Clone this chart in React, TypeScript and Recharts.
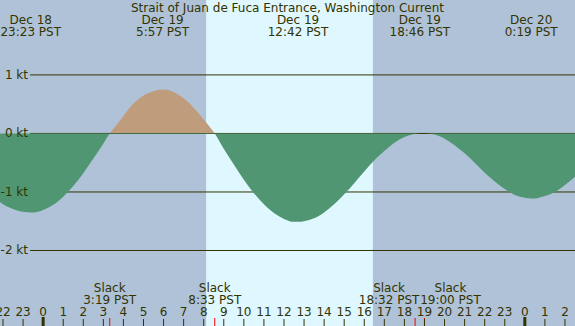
import React from "react";
import {
  AreaChart,
  Area,
  XAxis,
  YAxis,
  ReferenceArea,
  ReferenceLine,
} from "recharts";

// hours from midnight Dec 19 (PST), knots (+ flood / - ebb)
const hours = [
  -2.15, -2, -1.5, -1, -0.62, -0.5, 0, 0.5, 1, 1.5, 2, 2.5, 3, 3.32, 3.5, 4,
  4.5, 5, 5.5, 5.95, 6.5, 7, 7.5, 8, 8.55, 9, 9.5, 10, 10.5, 11, 11.5, 12, 12.5,
  12.7, 13, 13.5, 14, 14.5, 15, 15.5, 16, 16.5, 17, 17.5, 18, 18.5, 18.77, 19,
  19.5, 20, 20.5, 21, 21.5, 22, 22.5, 23, 23.5, 24, 24.32, 24.5, 25, 25.5, 26,
  26.5,
];
const knots = [
  -1.17, -1.21, -1.29, -1.34, -1.35, -1.35, -1.31, -1.22, -1.08, -0.9, -0.68,
  -0.43, -0.17, 0, 0.08, 0.3, 0.51, 0.65, 0.72, 0.75, 0.71, 0.6, 0.44, 0.24, 0,
  -0.26, -0.53, -0.79, -1.02, -1.21, -1.36, -1.46, -1.51, -1.51, -1.5, -1.45,
  -1.35, -1.21, -1.04, -0.85, -0.65, -0.46, -0.3, -0.16, -0.06, -0.01, 0, 0,
  -0.02, -0.09, -0.2, -0.34, -0.5, -0.67, -0.82, -0.95, -1.05, -1.1, -1.11,
  -1.11, -1.07, -1, -0.88, -0.74,
];

const hourTicks = [
  -2, -1, 0, 1, 2, 3, 4, 5, 6, 7, 8, 9, 10, 11, 12, 13, 14, 15, 16, 17, 18, 19,
  20, 21, 22, 23, 24, 25, 26,
];
const ktTicks = [1, 0, -1, -2];

// max / min current events (top labels)
const peakHours = [-0.617, 5.95, 12.7, 18.767, 24.317];
const peakDays = ["Dec 18", "Dec 19", "Dec 19", "Dec 19", "Dec 20"];
const peakTimes = ["23:23 PST", "5:57 PST", "12:42 PST", "18:46 PST", "0:19 PST"];

// slack water (bottom labels)
const slackHours = [3.317, 8.55, 18.533, 19.0];
const slackTimes = ["3:19 PST", "8:33 PST", "18:32 PST", "19:00 PST"];
const slackNudge = [0, 0, -26, 26];

const sunrise = 8.12;
const sunset = 16.43;

const TITLE = "Strait of Juan de Fuca Entrance, Washington Current";

const W = 575;
const H = 326;
const X_MIN = -2.15;
const X_MAX = 26.5;
const Y_MIN = -3.29;
const Y_MAX = 2.28;
const GRID_START = -0.65;

const NIGHT = "#afc2d8";
const DAY = "#dff7ff";
const EBB = "#519673";
const FLOOD = "#bf9c7b";
const INK = "#333300";
const FONT = "DejaVu Sans";

const data = hours.map((h, i) => ({ hour: h, kt: knots[i] }));
const hiKt = Math.max(...knots);
const loKt = Math.min(...knots);
const split = hiKt / (hiKt - loKt);

const HourTick = (props: any) => {
  const { x, payload } = props;
  const v = payload.value as number;
  const label = ((v % 24) + 24) % 24;
  const midnight = label === 0;
  return (
    <g>
      <text x={x} y={H - 10} textAnchor="middle" fill={INK} fontSize={12} fontFamily={FONT}>
        {label}
      </text>
      <line
        x1={x}
        x2={x}
        y1={midnight ? H - 9 : H - 7}
        y2={H}
        stroke={INK}
        strokeWidth={midnight ? 3 : 1}
      />
    </g>
  );
};

const KtTick = (props: any) => {
  const { y, payload } = props;
  return (
    <text x={28} y={y + 4} textAnchor="end" fill={INK} fontSize={12} fontFamily={FONT}>
      {payload.value} kt
    </text>
  );
};

export default function App() {
  return (
    <div style={{ position: "absolute", left: 0, top: 0, width: W, height: H, background: NIGHT }}>
      <AreaChart width={W} height={H} data={data} margin={{ top: 0, right: 0, bottom: 0, left: 0 }}>
        <defs>
          <linearGradient id="tideFill" x1="0" y1="0" x2="0" y2="1">
            <stop offset={split} stopColor={FLOOD} />
            <stop offset={split} stopColor={EBB} />
          </linearGradient>
        </defs>
        <XAxis
          dataKey="hour"
          type="number"
          domain={[X_MIN, X_MAX]}
          allowDataOverflow
          ticks={hourTicks}
          interval={0}
          mirror
          axisLine={false}
          tickLine={false}
          tick={(p: any) => <HourTick {...p} />}
        />
        <YAxis
          type="number"
          domain={[Y_MIN, Y_MAX]}
          allowDataOverflow
          ticks={ktTicks}
          interval={0}
          mirror
          axisLine={false}
          tickLine={false}
          tick={(p: any) => <KtTick {...p} />}
        />
        <ReferenceArea
          x1={sunrise}
          x2={sunset}
          fill={DAY}
          fillOpacity={1}
          stroke="none"
          zIndex={-200}
        />
        {ktTicks.map((k) => (
          <ReferenceLine
            key={"g" + k}
            segment={[
              { x: GRID_START, y: k },
              { x: X_MAX, y: k },
            ]}
            stroke={INK}
            strokeWidth={1}
            zIndex={50}
          />
        ))}
        <Area
          type="monotone"
          dataKey="kt"
          baseValue={0}
          stroke="none"
          fill="url(#tideFill)"
          fillOpacity={1}
          dot={false}
          activeDot={false}
          isAnimationActive={false}
        />
        {peakHours.map((h, i) => (
          <ReferenceLine
            key={"p" + i}
            x={h}
            stroke="none"
            label={(p: any) => (
              <g fill={INK} fontSize={12} fontFamily={FONT} textAnchor="middle">
                <text x={p.viewBox.x} y={24}>{peakDays[i]}</text>
                <text x={p.viewBox.x} y={36}>{peakTimes[i]}</text>
              </g>
            )}
          />
        ))}
        {slackHours.map((h, i) => (
          <ReferenceLine
            key={"s" + i}
            x={h}
            stroke="none"
            label={(p: any) => (
              <g>
                <line x1={p.viewBox.x} x2={p.viewBox.x} y1={H - 8} y2={H} stroke="#ff0000" strokeWidth={1} />
                <g fill={INK} fontSize={12} fontFamily={FONT} textAnchor="middle">
                  <text x={p.viewBox.x + slackNudge[i]} y={292}>Slack</text>
                  <text x={p.viewBox.x + slackNudge[i]} y={304}>{slackTimes[i]}</text>
                </g>
              </g>
            )}
          />
        ))}
        <ReferenceLine
          x={(X_MIN + X_MAX) / 2}
          stroke="none"
          label={(p: any) => (
            <text x={p.viewBox.x} y={12} textAnchor="middle" fill={INK} fontSize={12} fontFamily={FONT}>
              {TITLE}
            </text>
          )}
        />
      </AreaChart>
    </div>
  );
}
